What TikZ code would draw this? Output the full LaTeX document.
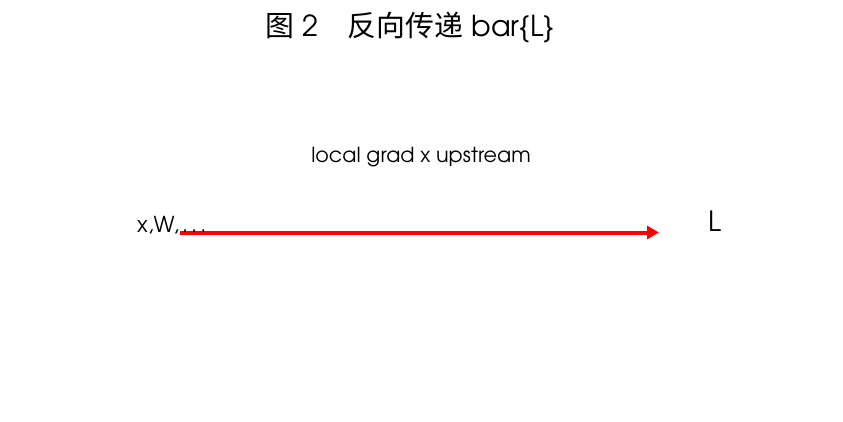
\documentclass[tikz,border=0pt]{standalone}
\usepackage{fontspec}
\usepackage{tikz}
\newfontfamily\cjkfont{Noto Sans CJK SC}
\newfontfamily\gothicfont{texgyreadventor-regular.otf}
\usetikzlibrary{arrows.meta}
\tikzstyle{label}=[inner sep=0, outer sep=0, font=\gothicfont]
\tikzstyle{flow}=[draw=red, line width=4bp, -{Triangle[length=12bp, width=13bp]}]

\begin{document}
\begin{tikzpicture}[x=1bp, y=-1bp]
        \useasboundingbox (0, 0) rectangle (843, 421);
        \coordinate (tail) at (180, 232.5);
        \coordinate (head) at (659, 232.5);
        \draw[flow] (tail) -- (head);
        \node[label, font=\gothicfont\fontsize{29}{33}\selectfont] (title) at (410, 28) {{\cjkfont 图} 2{\cjkfont 　反向传递} bar\{L\}};
        \node[label, font=\gothicfont\fontsize{20.8}{24}\selectfont] (rule) at (421, 157.5) {local grad x upstream};
        \node[label, anchor=base west, font=\gothicfont\fontsize{22}{26}\selectfont] (inputs) at (137, 232) {x,W,\hspace{3bp}.\hspace{3bp}.\hspace{3bp}.};
        \node[label, anchor=base west, font=\gothicfont\fontsize{28}{32}\selectfont] (loss) at (708, 231) {L};
    \end{tikzpicture}
\end{document}
